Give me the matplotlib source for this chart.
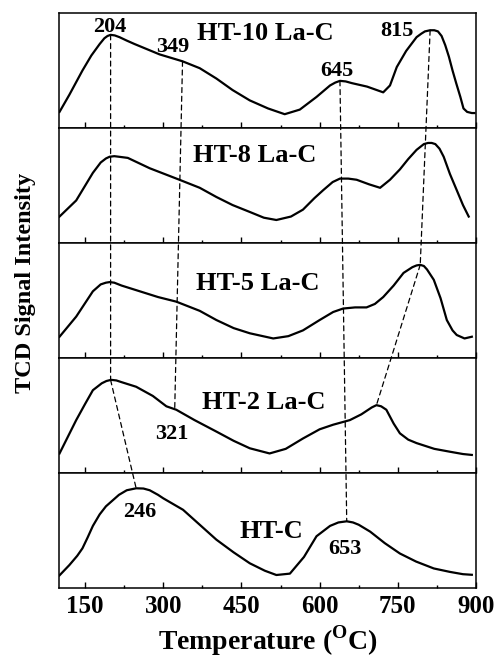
import matplotlib.pyplot as plt
from matplotlib.patches import ConnectionPatch
import numpy as np

plt.rcParams['font.family'] = 'Liberation Serif'
plt.rcParams['font.weight'] = 'bold'
plt.rcParams['mathtext.fontset'] = 'custom'
plt.rcParams['mathtext.rm'] = 'Liberation Serif:bold'
plt.rcParams['mathtext.bf'] = 'Liberation Serif:bold'

# TPR profiles (temperature in C, signal as fraction of panel height)
t_ht10 = [101, 120, 145, 162, 178, 187, 193, 199, 207, 216, 230, 245, 293, 337, 370, 402, 433,
          466, 501, 533, 562, 594, 620, 630, 639, 650, 662, 691, 722, 735, 748, 766, 786, 795,
          802, 812, 820, 827, 834, 841, 848, 855, 862, 870, 876, 883, 892, 897]
s_ht10 = [0.14, 0.29, 0.50, 0.63, 0.73, 0.78, 0.80, 0.81, 0.805, 0.79, 0.76, 0.73, 0.64, 0.58,
          0.52, 0.43, 0.33, 0.24, 0.17, 0.12, 0.16, 0.27, 0.37, 0.395, 0.41, 0.405, 0.39, 0.36,
          0.31, 0.37, 0.53, 0.67, 0.79, 0.82, 0.84, 0.85, 0.85, 0.84, 0.80, 0.72, 0.62, 0.50,
          0.39, 0.27, 0.17, 0.14, 0.13, 0.13]

t_ht8 = [101, 133, 165, 180, 190, 197, 206, 215, 232, 274, 331, 370, 402, 433, 466, 493, 517,
         545, 568, 590, 607, 625, 639, 655, 671, 695, 716, 735, 754, 770, 786, 800, 808, 815,
         822, 830, 838, 850, 863, 875, 886]
s_ht8 = [0.23, 0.37, 0.61, 0.70, 0.735, 0.75, 0.755, 0.75, 0.74, 0.65, 0.55, 0.48, 0.40, 0.33,
         0.27, 0.22, 0.20, 0.23, 0.29, 0.39, 0.46, 0.53, 0.56, 0.56, 0.55, 0.51, 0.48, 0.55,
         0.64, 0.73, 0.81, 0.86, 0.87, 0.87, 0.86, 0.82, 0.75, 0.60, 0.46, 0.33, 0.23]

t_ht5 = [101, 133, 165, 180, 190, 197, 206, 220, 248, 290, 325, 370, 402, 435, 466, 511, 540,
         568, 600, 626, 645, 668, 690, 706, 722, 742, 761, 778, 786, 793, 800, 806, 819, 832,
         844, 855, 863, 878, 892]
s_ht5 = [0.185, 0.36, 0.58, 0.64, 0.655, 0.66, 0.655, 0.63, 0.59, 0.53, 0.49, 0.41, 0.33, 0.26,
         0.215, 0.17, 0.19, 0.24, 0.33, 0.40, 0.43, 0.44, 0.44, 0.47, 0.53, 0.63, 0.74, 0.79,
         0.805, 0.81, 0.80, 0.77, 0.68, 0.52, 0.33, 0.24, 0.20, 0.17, 0.185]

t_ht2 = [101, 133, 150, 165, 182, 191, 200, 210, 220, 248, 280, 306, 325, 360, 402, 435, 466,
         504, 535, 568, 600, 626, 658, 680, 700, 709, 718, 728, 742, 754, 770, 786, 820, 850,
         875, 892]
s_ht2 = [0.17, 0.46, 0.60, 0.72, 0.78, 0.80, 0.81, 0.805, 0.79, 0.75, 0.67, 0.58, 0.55, 0.46,
         0.36, 0.28, 0.215, 0.17, 0.21, 0.30, 0.38, 0.42, 0.46, 0.51, 0.57, 0.59, 0.58, 0.55,
         0.43, 0.345, 0.29, 0.26, 0.21, 0.185, 0.165, 0.157]

t_htc = [101, 120, 135, 145, 155, 165, 178, 190, 215, 230, 248, 262, 274, 290, 300, 338, 370,
         402, 435, 466, 495, 517, 543, 570, 594, 620, 636, 652, 664, 675, 697, 725, 754, 785,
         819, 850, 875, 892]
s_htc = [0.11, 0.20, 0.28, 0.345, 0.44, 0.54, 0.64, 0.71, 0.81, 0.85, 0.867, 0.865, 0.85, 0.81,
         0.78, 0.68, 0.55, 0.42, 0.31, 0.215, 0.15, 0.113, 0.125, 0.27, 0.45, 0.54, 0.57, 0.58,
         0.57, 0.55, 0.49, 0.39, 0.30, 0.23, 0.17, 0.14, 0.12, 0.115]

names = ['HT-10 La-C', 'HT-8 La-C', 'HT-5 La-C', 'HT-2 La-C', 'HT-C']
temps = [t_ht10, t_ht8, t_ht5, t_ht2, t_htc]
signals = [s_ht10, s_ht8, s_ht5, s_ht2, s_htc]
name_pos = [(495, 0.826), (476, 0.765), (482, 0.652), (493, 0.617), (508, 0.49)]

# peak labels: (panel, text, x, y)
peak_labels = [(0, '204', 197, 0.875), (0, '349', 318, 0.70), (0, '645', 633, 0.50),
               (0, '815', 748, 0.845), (3, '321', 317, 0.339), (4, '246', 254, 0.663),
               (4, '653', 649, 0.339)]

# dashed guides between peaks: (panel a, T a, panel b, T b)
links = [(0, 199, 3, 199), (3, 199, 4, 248), (0, 337, 3, 322), (0, 639, 4, 652),
         (0, 812, 2, 793), (2, 793, 3, 709)]

xticks = [150, 300, 450, 600, 750, 900]

fig, axes = plt.subplots(5, 1, figsize=(4.94, 6.59), dpi=100, sharex=True)
fig.subplots_adjust(left=59/494, right=476/494, top=1-13/659, bottom=1-588/659, hspace=0)

for i, ax in enumerate(axes):
    ax.plot(temps[i], signals[i], color='black', lw=1.6)
    ax.set_xlim(100, 900)
    ax.set_ylim(0, 1)
    ax.set_yticks([])
    ax.set_xticks(xticks)
    ax.set_xticks(np.arange(225, 900, 150), minor=True)
    ax.tick_params(axis='x', which='major', direction='in', length=4.5, width=1, top=False, pad=5,
                   labelsize=18)
    ax.tick_params(axis='x', which='minor', direction='in', length=2.5, width=1, top=False)
    for sp in ax.spines.values():
        sp.set_linewidth(1.1)
    ax.text(name_pos[i][0], name_pos[i][1], names[i], fontsize=19, fontweight='bold',
            ha='center', va='center')

axes[-1].set_xticklabels([str(t) for t in xticks])

for p, txt, x, y in peak_labels:
    axes[p].text(x, y, txt, fontsize=16, fontweight='bold', ha='center', va='center')

for a, ta, b, tb in links:
    ya = np.interp(ta, temps[a], signals[a])
    yb = np.interp(tb, temps[b], signals[b])
    con = ConnectionPatch(xyA=(ta, ya), coordsA=axes[a].transData,
                          xyB=(tb, yb), coordsB=axes[b].transData,
                          color='black', lw=0.9, linestyle=(0, (4, 3)))
    fig.add_artist(con)

fig.text(267.5/494, 1-641/659, r'Temperature ($^{\mathbf{O}}$C)', fontsize=20,
         fontweight='bold', ha='center', va='center')
fig.text(26/494, 1-283/659, 'TCD Signal Intensity', fontsize=17.5, fontweight='bold',
         rotation=90, ha='center', va='center')

plt.savefig('out.png', dpi=100)
